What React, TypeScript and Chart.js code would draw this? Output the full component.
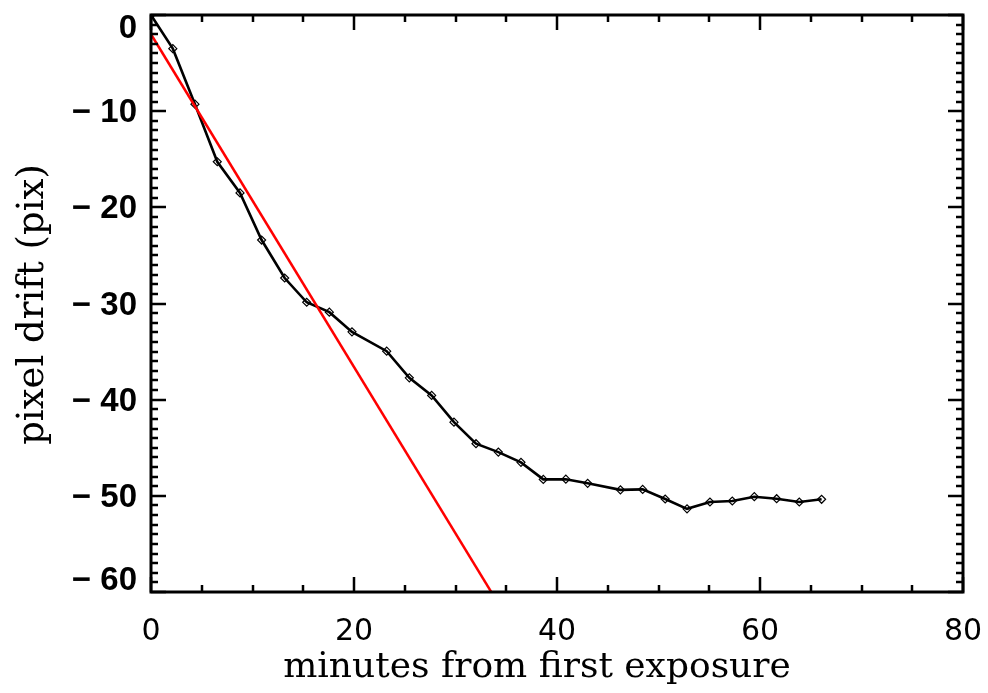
import React, { useEffect, useRef } from 'react';
import { Chart, registerables } from 'chart.js';

Chart.register(...registerables);

// ---- data ----
const timeMin = [0, 2.15, 4.33, 6.53, 8.77, 10.9, 13.17, 15.34, 17.57, 19.8, 23.22, 25.45, 27.65, 29.85, 32.02, 34.22, 36.45, 38.65, 40.87, 43.02, 46.25, 48.44, 50.66, 52.81, 55.07, 57.27, 59.44, 61.64, 63.87, 66.07];
const driftPix = [0, -3.5, -9.27, -15.26, -18.5, -23.4, -27.35, -29.87, -30.9, -32.95, -34.96, -37.73, -39.56, -42.34, -44.58, -45.45, -46.52, -48.29, -48.27, -48.7, -49.38, -49.33, -50.33, -51.35, -50.64, -50.54, -50.09, -50.3, -50.64, -50.36];
const fitX = [0, 40];
const fitY = [-2.0, -71.2];

const xTickValues = [0, 20, 40, 60, 80];
const yTickValues = [0, -10, -20, -30, -40, -50, -60];
const xTitle = 'minutes from first exposure';
const yTitle = 'pixel drift (pix)';

const X_MIN = 0, X_MAX = 80, X_MINOR = 5;
const Y_MIN = -60, Y_MAX = 0, Y_MINOR = 1;

const framePlugin = {
  id: 'idlFrame',
  afterDraw(chart: any) {
    const ctx = chart.ctx as CanvasRenderingContext2D;
    const { left, right, top, bottom } = chart.chartArea;
    const xs = chart.scales.x;
    const ys = chart.scales.y;
    ctx.save();
    ctx.strokeStyle = '#000';
    // ticks
    ctx.lineWidth = 2.5;
    ctx.lineCap = 'butt';
    for (let v = X_MIN; v <= X_MAX + 1e-9; v += X_MINOR) {
      const px = Math.round(xs.getPixelForValue(v));
      const len = Math.abs(v % 20) < 1e-9 ? 15 : 7;
      ctx.beginPath();
      ctx.moveTo(px, bottom); ctx.lineTo(px, bottom - len);
      ctx.moveTo(px, top); ctx.lineTo(px, top + len);
      ctx.stroke();
    }
    for (let v = Y_MIN; v <= Y_MAX + 1e-9; v += Y_MINOR) {
      const py = Math.round(ys.getPixelForValue(v));
      const len = Math.abs(v % 10) < 1e-9 ? 15 : 7;
      ctx.beginPath();
      ctx.moveTo(left, py); ctx.lineTo(left + len, py);
      ctx.moveTo(right, py); ctx.lineTo(right - len, py);
      ctx.stroke();
    }
    // frame
    ctx.lineWidth = 3;
    ctx.strokeRect(left, top, right - left, bottom - top);

    // x tick labels
    ctx.fillStyle = '#000';
    ctx.font = '30px "DejaVu Sans"';
    ctx.textAlign = 'center';
    ctx.textBaseline = 'middle';
    for (const v of xTickValues) {
      ctx.fillText(String(v), xs.getPixelForValue(v), bottom + 40);
    }
    // y tick labels
    ctx.font = 'bold 33px "Liberation Sans"';
    ctx.textAlign = 'right';
    for (const v of yTickValues) {
      const py = ys.getPixelForValue(v);
      const y = Math.min(Math.max(py + 2, top + 14), bottom - 11);
      const txt = v < 0 ? '\u2212 ' + String(Math.abs(v)) : String(v);
      ctx.fillText(txt, left - 14, y);
    }
    // titles
    ctx.font = '36px "DejaVu Serif"';
    ctx.textAlign = 'center';
    ctx.textBaseline = 'alphabetic';
    ctx.fillText(xTitle, (left + right) / 2 - 20, bottom + 85);
    ctx.save();
    ctx.font = '37px "DejaVu Serif"';
    ctx.translate(43, (top + bottom) / 2 + 1);
    ctx.rotate(-Math.PI / 2);
    ctx.fillText(yTitle, 0, 0);
    ctx.restore();
    ctx.restore();
  },
};

export default function App() {
  const ref = useRef<HTMLCanvasElement>(null);
  useEffect(() => {
    if (!ref.current) return;
    const chart = new Chart(ref.current, {
      type: 'scatter',
      data: {
        datasets: [
          {
            data: fitX.map((x, i) => ({ x, y: fitY[i] })),
            showLine: true,
            borderColor: '#ff0000',
            borderWidth: 2.5,
            pointRadius: 0,
            fill: false,
          },
          {
            data: timeMin.map((x, i) => ({ x, y: driftPix[i] })),
            showLine: true,
            borderColor: '#000',
            borderWidth: 2.6,
            pointStyle: 'rectRot',
            pointRadius: 4,
            pointBorderWidth: 1.2,
            pointBorderColor: '#000',
            pointBackgroundColor: 'rgba(255,255,255,0)',
            fill: false,
          },
        ],
      },
      options: {
        animation: false,
        responsive: false,
        maintainAspectRatio: false,
        layout: { padding: { left: 0, top: 15, right: 25, bottom: 0 } },
        plugins: { legend: { display: false }, tooltip: { enabled: false } },
        scales: {
          x: {
            type: 'linear',
            min: X_MIN,
            max: X_MAX,
            ticks: { display: false },
            grid: { display: false },
            border: { display: false },
            afterFit: (s: any) => { s.height = 101; },
          },
          y: {
            type: 'linear',
            min: Y_MIN,
            max: Y_MAX,
            ticks: { display: false },
            grid: { display: false },
            border: { display: false },
            afterFit: (s: any) => { s.width = 151; },
          },
        },
      },
      plugins: [framePlugin],
    });
    return () => chart.destroy();
  }, []);
  return (
    <div style={{ position: 'fixed', left: 0, top: 0, width: 988, height: 693, background: '#fff' }}>
      <canvas ref={ref} width={988} height={693} style={{ width: 988, height: 693, display: 'block' }} />
    </div>
  );
}
